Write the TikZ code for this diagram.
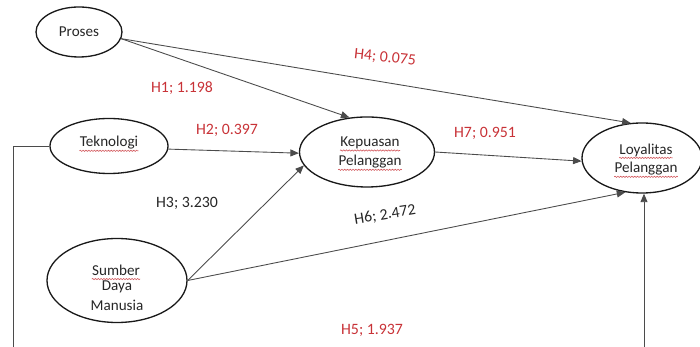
\documentclass[tikz,border=0pt]{standalone}
\usepackage{fontspec}
\setmainfont{Carlito}
\usetikzlibrary{shapes.geometric, arrows.meta, positioning, calc, decorations.pathmorphing}
\definecolor{hypRed}{RGB}{200, 50, 55}
\definecolor{lineGrey}{RGB}{75, 75, 75}

\begin{document}
\begin{tikzpicture}[
            construct/.style={
                ellipse,
                draw=black!90,
                line width=0.75pt,
                inner sep=0pt
            },
            word/.style={
                inner sep=0pt,
                font=\fontsize{8.6}{10}\selectfont,
                text=black!85
            },
            hyp/.style={
                font=\fontsize{9}{11}\selectfont,
                text=hypRed
            },
            hypplain/.style={
                hyp,
                text=black!85
            },
            line/.style={
                draw=lineGrey,
                line width=0.5pt,
                -{Triangle[length=1.7mm, width=1.4mm]}
            },
            plain/.style={
                draw=lineGrey,
                line width=0.5pt
            },
            spell/.style={
                draw=hypRed!80,
                line width=0.35pt,
                decorate,
                decoration={snake, amplitude=0.35pt, segment length=1.6pt}
            }
        ]

        \useasboundingbox (0,0) rectangle (14,-6.94);
        \clip (0,0) rectangle (14,-6.94);

        % --- Constructs ---
        \node [construct, minimum width=1.72cm, minimum height=1.0cm] (pro) at (1.58,-0.64) {};
        \node [construct, minimum width=2.36cm, minimum height=1.10cm] (tek) at (2.18,-2.92) {};
        \node [construct, minimum width=2.80cm, minimum height=1.68cm] (sdm) at (2.34,-5.61) {};
        \node [construct, minimum width=2.70cm, minimum height=1.40cm] (kep) at (7.34,-3.04) {};
        \node [construct, minimum width=2.40cm, minimum height=1.40cm] (loy) at (12.84,-3.16) {};

        % --- Words ---
        \node [word] (proW) at (pro) {Proses};
        \node [word] (tekW) at ($(tek)+(0,0.06)$) {Teknologi};
        \node [word] (sdmW1) at ($(sdm)+(-0.02,0.21)$) {Sumber};
        \node [word] (sdmW2) at ($(sdm)+(0,-0.13)$) {Daya};
        \node [word] (sdmW3) at ($(sdm)+(0,-0.49)$) {Manusia};
        \node [word] (kepW1) at ($(kep)+(0.06,0.18)$) {Kepuasan};
        \node [word] (kepW2) at ($(kep)+(0.06,-0.20)$) {Pelanggan};
        \node [word] (loyW1) at ($(loy)+(0.08,0.16)$) {Loyalitas};
        \node [word] (loyW2) at ($(loy)+(0.08,-0.22)$) {Pelanggan};

        % spell-check marks
        \foreach \w in {tekW, sdmW1, kepW1, kepW2, loyW1, loyW2}
            \path [spell] ([yshift=-2.2pt]\w.base west) -- ([yshift=-2.2pt]\w.base east);

        % --- Paths ---
        \path [line] (pro.-9) -- (kep.117);
        \path [line] (pro.-9) -- (loy.108);
        \path [line] (tek.-3) -- (kep.181);
        \path [line] (sdm.east) -- (kep.192);
        \path [line] (sdm.east) -- (loy.244);
        \path [line] (kep.east) -- (loy.183);

        % H5 runs below the frame
        \coordinate (h5L) at (0.26,-7.4);
        \coordinate (h5R) at ($(loy.south |- h5L)+(0.04,0)$);
        \path [plain] (tek.west) -| (h5L) -- (h5R);
        \path [line] (h5R) -- ($(loy.south)+(0.04,0)$);

        % --- Hypothesis labels ---
        \node [hyp] (h1) at (3.64,-1.76) {H1; 1.198};
        \node [hyp] (h2) at (4.54,-2.60) {H2; 0.397};
        \node [hypplain] (h3) at (3.74,-4.06) {H3; 3.230};
        \node [hyp, rotate=-6] (h4) at (7.70,-1.16) {H4; 0.075};
        \node [hyp] (h5) at (7.44,-6.60) {H5; 1.937};
        \node [hypplain, rotate=9] (h6) at (7.70,-4.30) {H6; 2.472};
        \node [hyp] (h7) at (9.70,-2.66) {H7; 0.951};

\end{tikzpicture}
\end{document}
